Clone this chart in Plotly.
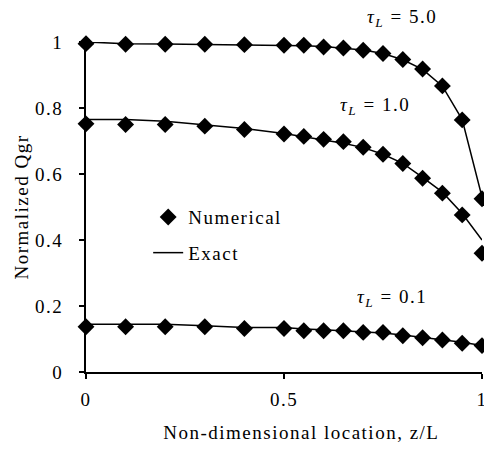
import plotly.graph_objects as go

# Data
z = [0, 0.1, 0.2, 0.3, 0.4, 0.5, 0.55, 0.6, 0.65, 0.7, 0.75, 0.8, 0.85, 0.9, 0.95, 1.0]

num_tau5 = [0.995, 0.993, 0.993, 0.993, 0.992, 0.99, 0.99, 0.985, 0.982, 0.975, 0.965, 0.947, 0.918, 0.867, 0.764, 0.525]
exact_tau5 = [1.0, 0.995, 0.994, 0.993, 0.992, 0.99, 0.989, 0.986, 0.982, 0.976, 0.965, 0.946, 0.917, 0.866, 0.765, 0.53]

num_tau1 = [0.752, 0.75, 0.75, 0.745, 0.735, 0.721, 0.714, 0.705, 0.698, 0.681, 0.66, 0.632, 0.587, 0.542, 0.476, 0.36]
exact_tau1 = [0.765, 0.765, 0.76, 0.75, 0.738, 0.723, 0.713, 0.703, 0.693, 0.68, 0.66, 0.632, 0.59, 0.545, 0.48, 0.40]

num_tau01 = [0.137, 0.137, 0.137, 0.137, 0.132, 0.132, 0.125, 0.125, 0.125, 0.12, 0.12, 0.11, 0.104, 0.097, 0.087, 0.08]
exact_tau01 = [0.145, 0.145, 0.145, 0.14, 0.135, 0.135, 0.13, 0.128, 0.125, 0.122, 0.118, 0.112, 0.105, 0.098, 0.09, 0.08]

x_ticks = [0, 0.5, 1]
x_tick_text = ["0", "0.5", "1"]
y_ticks = [0, 0.2, 0.4, 0.6, 0.8, 1]
y_tick_text = ["0", "0.2", "0.4", "0.6", "0.8", "1"]

x_title = "Non-dimensional location, z/L"
y_title = "Normalized Qgr"

labels = ["5.0", "1.0", "0.1"]
label_x = [0.798, 0.73, 0.773]
label_y = [1.073, 0.806, 0.224]

FONT = "Liberation Serif"

fig = go.Figure()

exacts = [exact_tau5, exact_tau1, exact_tau01]
nums = [num_tau5, num_tau1, num_tau01]

for i, ys in enumerate(exacts):
    fig.add_trace(go.Scatter(
        x=z, y=ys, mode="lines", name="Exact",
        line=dict(color="black", width=1.5),
        showlegend=(i == 0), legendgroup="exact", legendrank=2,
        cliponaxis=False,
    ))
for i, ys in enumerate(nums):
    fig.add_trace(go.Scatter(
        x=z, y=ys, mode="markers", name="Numerical",
        marker=dict(symbol="diamond", size=13, color="black"),
        showlegend=(i == 0), legendgroup="num", legendrank=1,
        cliponaxis=False,
    ))

# axis domains are [0, 1] with ranges [0, 1], so paper coordinates equal data coordinates
for t, lx, ly in zip(labels, label_x, label_y):
    fig.add_annotation(
        x=lx, y=ly, xref="paper", yref="paper", showarrow=False,
        xanchor="center", yanchor="middle",
        text="<i>τ</i><sub><i>L</i></sub> = " + t,
        font=dict(family=FONT, size=19, color="black"),
    )

# x-axis title (offset to the right of the plot centre, as in the reference)
fig.add_annotation(
    x=0.545, y=-0.183, xref="paper", yref="paper", showarrow=False,
    xanchor="center", yanchor="middle", text=x_title,
    font=dict(family=FONT, size=19, color="black"),
)

fig.update_layout(
    width=484, height=452,
    margin=dict(l=86, r=2, t=42, b=80),
    paper_bgcolor="white", plot_bgcolor="white",
    font=dict(family=FONT, size=19, color="black"),
    legend=dict(
        x=0.157, y=0.527, xanchor="left", yanchor="top",
        bgcolor="rgba(0,0,0,0)", tracegroupgap=8,
        font=dict(family=FONT, size=19, color="black"),
    ),
    xaxis=dict(
        range=[0, 1], tickvals=x_ticks, ticktext=x_tick_text,
        showgrid=False, zeroline=False, showline=True, linecolor="black", linewidth=2,
        ticks="outside", ticklen=5, tickwidth=1.5, tickcolor="black",
        ticklabelstandoff=4, ticklabeloverflow="allow", automargin=False,
    ),
    yaxis=dict(
        range=[0, 1], tickvals=y_ticks, ticktext=y_tick_text,
        showgrid=False, zeroline=False, showline=True, linecolor="black", linewidth=2,
        ticks="outside", ticklen=5, tickwidth=1.5, tickcolor="black",
        ticklabelstandoff=12, ticklabeloverflow="allow", automargin=False,
        title=dict(text=y_title, standoff=6,
                   font=dict(family=FONT, size=19)),
    ),
)

# The reference text is set with wide letter spacing (Excel-style rendering)
post = """
var gd = document.getElementById('{plot_id}');
gd.querySelectorAll('text').forEach(function(t){ t.style.letterSpacing = '1.5px'; });
gd.querySelectorAll('.legend [clip-path]').forEach(function(e){ e.removeAttribute('clip-path'); });
"""

fig.write_html("out.html", post_script=post)
